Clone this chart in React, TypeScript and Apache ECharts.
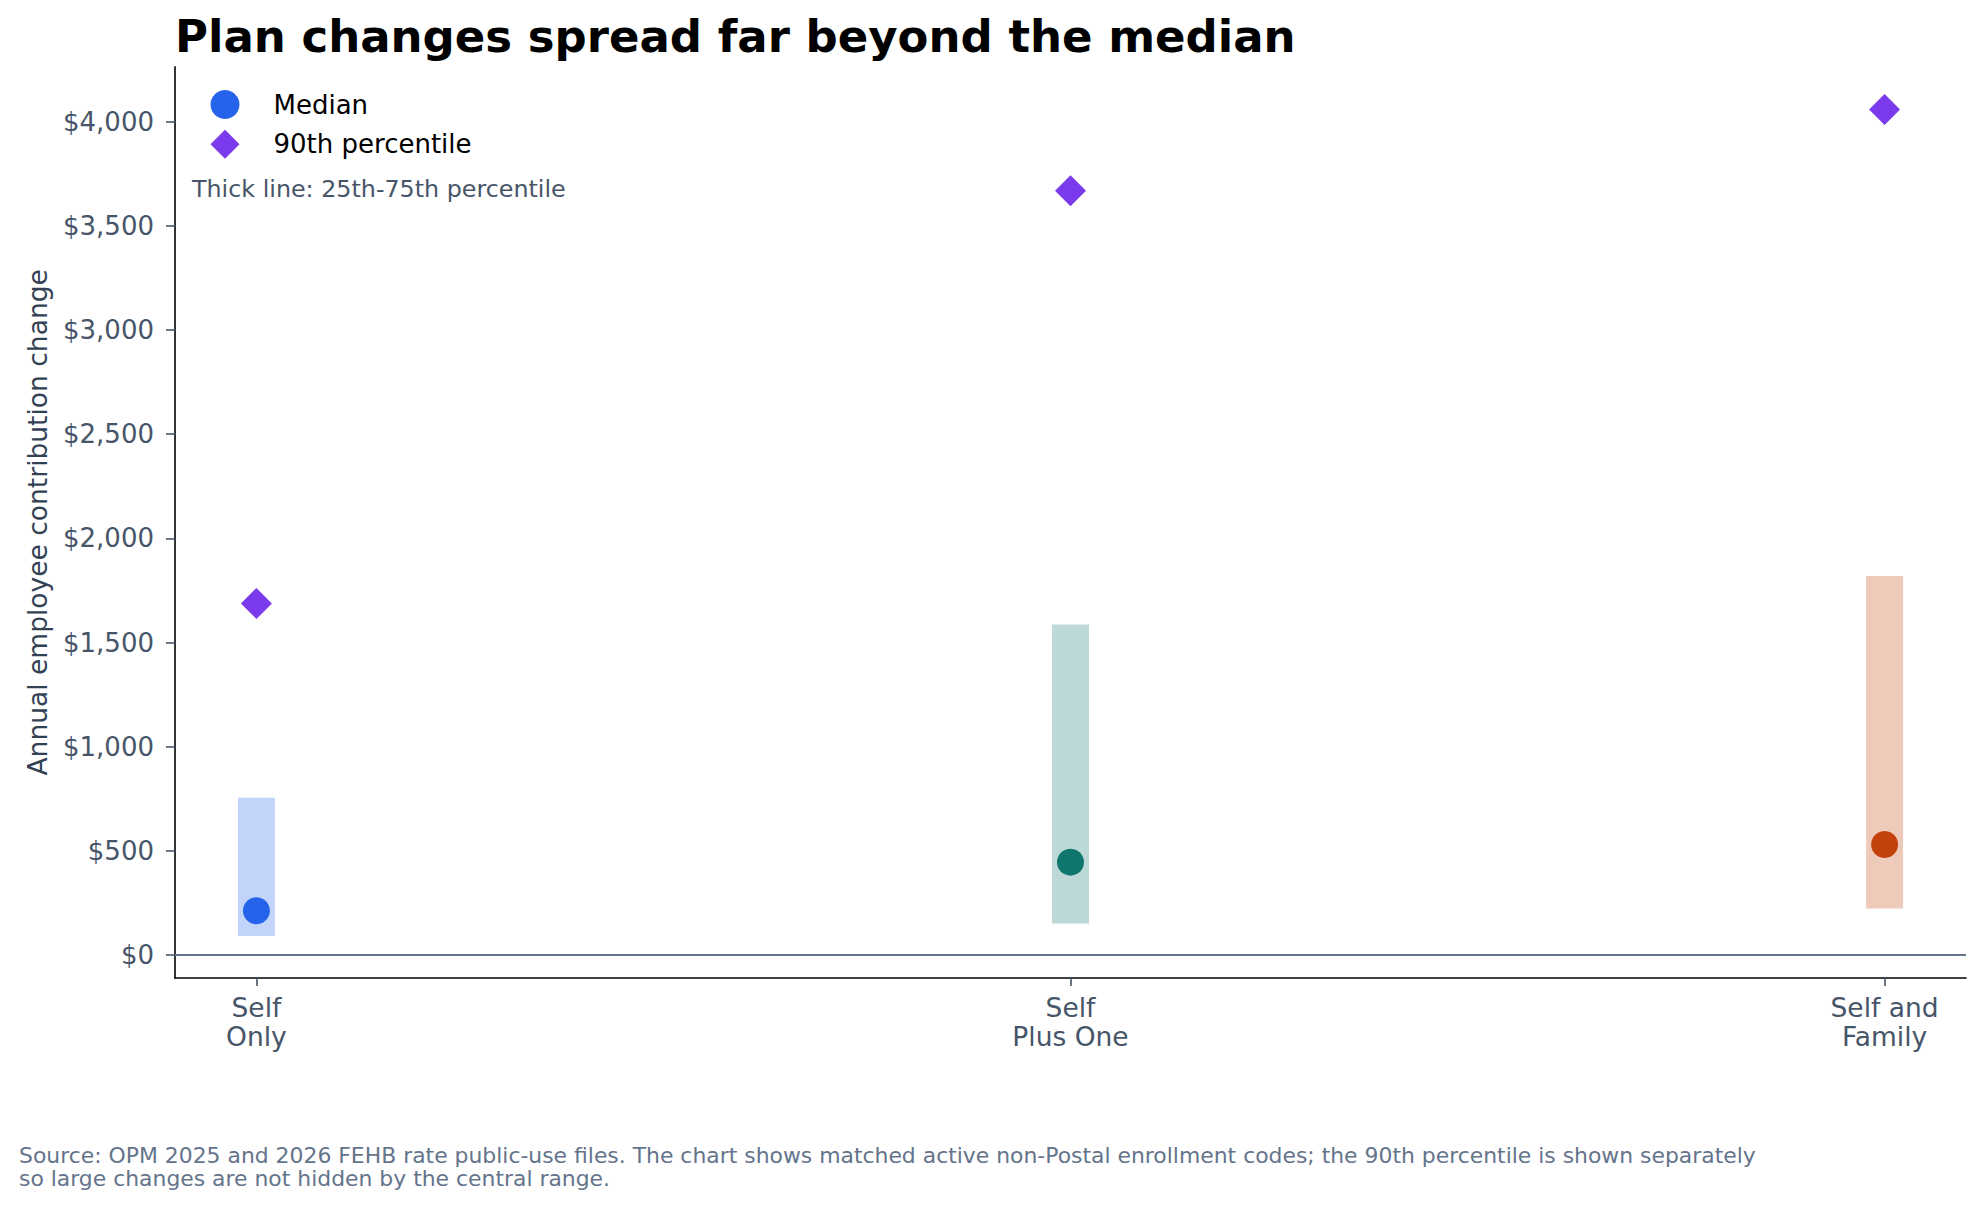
import React, { useEffect, useRef } from 'react';
import * as echarts from 'echarts';

const FONT = 'DejaVu Sans';

const categories = ['Self\nOnly', 'Self\nPlus One', 'Self and\nFamily'];
const categoryPositions = [0, 1, 2];
const p25 = [91, 152, 224];
const medians = [213, 446, 531];
const p75 = [755, 1587, 1819];
const p90 = [1688, 3669, 4059];
const groupColors = ['#2563eb', '#0f766e', '#c2410c'];
const yTicks = [0, 500, 1000, 1500, 2000, 2500, 3000, 3500, 4000];

const titleText = 'Plan changes spread far beyond the median';
const yAxisName = 'Annual employee contribution change';
const noteText = 'Thick line: 25th-75th percentile';
const footerText =
  'Source: OPM 2025 and 2026 FEHB rate public-use files. The chart shows matched active non-Postal enrollment codes; the 90th percentile is shown separately\nso large changes are not hidden by the central range.';

const fmtDollar = (v: number) => '$' + v.toLocaleString('en-US');

export default function App() {
  const ref = useRef<HTMLDivElement>(null);

  useEffect(() => {
    if (!ref.current) return;
    const chart = echarts.init(ref.current, undefined, { renderer: 'svg' });

    const option: any = {
      animation: false,
      backgroundColor: '#ffffff',
      textStyle: { fontFamily: FONT },
      title: {
        text: titleText,
        left: 175,
        top: 14,
        padding: 0,
        textStyle: { fontFamily: FONT, fontSize: 45, fontWeight: 'bold', color: '#000000' },
      },
      legend: {
        orient: 'vertical',
        left: 210.5,
        top: 90,
        padding: 0,
        itemWidth: 29,
        itemHeight: 29,
        itemGap: 10.7,
        data: [
          { name: 'Median', icon: 'circle', itemStyle: { color: '#2563eb' } },
          { name: '90th percentile', icon: 'diamond', itemStyle: { color: '#7c3aed' } },
        ],
        textStyle: { fontFamily: FONT, fontSize: 26, lineHeight: 29, color: '#000000', padding: [0, 0, 0, 29] },
      },
      grid: { left: 175, right: 18, top: 66.7, bottom: 230, containLabel: false },
      xAxis: {
        type: 'value',
        min: -0.1,
        max: 2.1,
        splitLine: { show: false },
        axisLine: { show: true, onZero: false, lineStyle: { color: '#000000', width: 1.6 } },
        axisTick: { show: true, customValues: categoryPositions, length: 8, lineStyle: { color: '#475569', width: 1.6 } },
        axisLabel: {
          customValues: categoryPositions,
          formatter: (v: number) => categories[Math.round(v)] ?? '',
          fontFamily: FONT,
          fontSize: 26.5,
          lineHeight: 29,
          color: '#475569',
          margin: 15,
        },
      },
      yAxis: {
        type: 'value',
        min: -110,
        max: 4264,
        name: yAxisName,
        nameLocation: 'middle',
        nameRotate: 90,
        nameGap: 124,
        nameTextStyle: { fontFamily: FONT, fontSize: 26.5, color: '#334155' },
        splitLine: { show: false },
        axisLine: { show: true, onZero: false, lineStyle: { color: '#000000', width: 1.6 } },
        axisTick: { show: true, customValues: yTicks, length: 9, lineStyle: { color: '#475569', width: 1.6 } },
        axisLabel: {
          customValues: yTicks,
          formatter: (v: number) => fmtDollar(v),
          fontFamily: FONT,
          fontSize: 26,
          color: '#475569',
          margin: 21,
        },
      },
      graphic: [
        {
          type: 'text',
          left: 192,
          top: 176.5,
          style: { text: noteText, fontFamily: FONT, fontSize: 23.8, fill: '#475569' },
        },
        {
          type: 'text',
          left: 19,
          top: 1143.5,
          style: { text: footerText, fontFamily: FONT, fontSize: 21.9, lineHeight: 23.3, fill: '#64748b' },
        },
      ],
      series: [
        {
          name: 'IQR',
          type: 'custom',
          z: 1,
          data: categoryPositions.map((x, i) => [x, p25[i], p75[i]]),
          encode: { x: 0, y: [1, 2] },
          renderItem: (params: any, api: any) => {
            const x = api.value(0);
            const top = api.coord([x, api.value(2)]);
            const bot = api.coord([x, api.value(1)]);
            const w = 37;
            return {
              type: 'rect',
              shape: { x: top[0] - w / 2, y: top[1], width: w, height: bot[1] - top[1] },
              style: { fill: groupColors[params.dataIndex], opacity: 0.28 },
            };
          },
          markLine: {
            silent: true,
            symbol: 'none',
            label: { show: false },
            lineStyle: { color: '#64748b', width: 2.2, type: 'solid' },
            data: [{ yAxis: 0 }],
          },
        },
        {
          name: 'Median',
          type: 'scatter',
          z: 3,
          symbol: 'circle',
          symbolSize: 27,
          itemStyle: { color: '#2563eb', opacity: 1 },
          data: categoryPositions.map((x, i) => ({
            value: [x, medians[i]],
            itemStyle: { color: groupColors[i] },
          })),
        },
        {
          name: '90th percentile',
          type: 'scatter',
          z: 3,
          symbol: 'diamond',
          symbolSize: 31,
          itemStyle: { color: '#7c3aed', opacity: 1 },
          data: categoryPositions.map((x, i) => [x, p90[i]]),
        },
      ],
    };

    chart.setOption(option);
    return () => chart.dispose();
  }, []);

  return (
    <div
      ref={ref}
      style={{ position: 'absolute', left: 0, top: 0, width: 1984, height: 1208, background: '#ffffff' }}
    />
  );
}
